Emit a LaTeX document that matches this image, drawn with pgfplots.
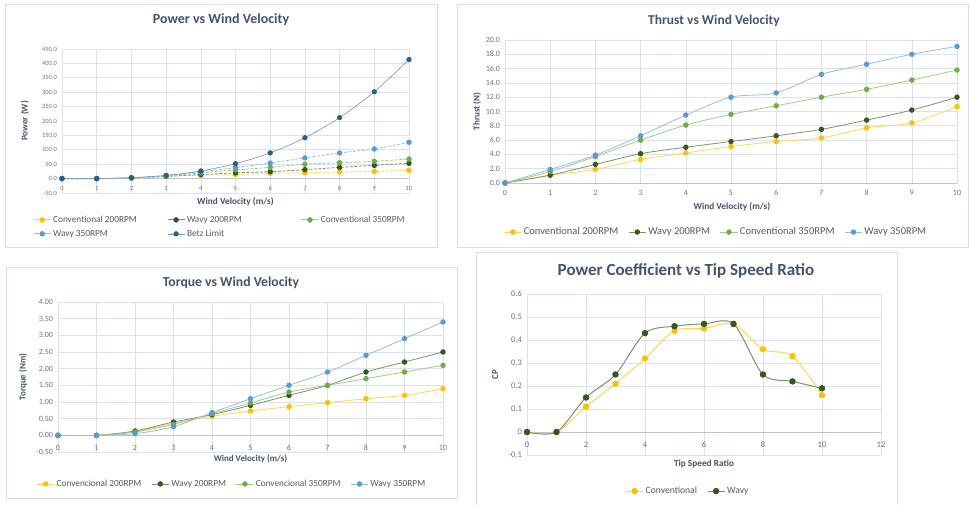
\documentclass[border=0pt]{standalone}
\usepackage{fontspec}
\setmainfont{Carlito}
\usepackage{pgfplots}
\pgfplotsset{compat=1.18}
\definecolor{cyel}{HTML}{FFC000}
\definecolor{cdg}{HTML}{375623}
\definecolor{clg}{HTML}{70AD47}
\definecolor{clb}{HTML}{5B9BD5}
\definecolor{cdb}{HTML}{255E91}
\definecolor{gridc}{HTML}{DCE1EA}
\definecolor{zeroc}{HTML}{BCC5D3}
\definecolor{tickc}{HTML}{6B7585}
\definecolor{titlec}{HTML}{44546A}
\definecolor{legc}{HTML}{595959}
\definecolor{framec}{HTML}{D9DEE6}
\pgfplotsset{
  excel/.style={
    scale only axis, anchor=south west, clip=false,
    axis line style={draw=none},
    tick style={draw=none},
    xmajorgrids, ymajorgrids,
    grid style={draw=gridc, line width=0.6pt},
    /pgf/number format/assume math mode=true,
    scaled ticks=false,
    ticklabel style={text=tickc},
    yticklabel style={anchor=east, xshift=-1.5pt},
    xlabel style={font=\bfseries\fontsize{9.3}{11}\selectfont, text=titlec, anchor=center},
    ylabel style={font=\bfseries\fontsize{9}{11}\selectfont, text=titlec, anchor=center, rotate=0},
    legend style={draw=none, fill=none, text=legc},
    legend cell align=left,
    extra y ticks={0}, extra y tick labels={},
    extra y tick style={grid style={draw=zeroc, line width=0.7pt}},
  },
  ser/.style={draw=#1!65!white, mark=*, mark size=2.3pt, mark options={solid, fill=#1, draw=#1}, line width=0.8pt, smooth, tension=0.5},
}
\begin{document}
\begin{tikzpicture}[x=1pt,y=1pt]
\fill[white] (0,0) rectangle (970,504);
\useasboundingbox (0,0) rectangle (970,504);
\draw[framec, line width=0.8pt] (5.5,257) rectangle (437,500);
\draw[framec, line width=0.8pt] (457,257) rectangle (968.5,500);
\draw[framec, line width=0.8pt] (6,6) rectangle (457,237);
\draw[framec, line width=0.8pt] (476,-2) rectangle (897,252);

% ---------- Power ----------
\begin{axis}[excel, at={(62pt,311pt)}, width=347pt, height=144pt,
  xmin=0, xmax=10, ymin=-50, ymax=450,
  xtick={0,...,10}, ytick={-50,0,50,100,150,200,250,300,350,400,450},
  ticklabel style={font=\fontsize{6.5}{8}\selectfont},
  xticklabel style={anchor=center, yshift=5pt},
  yticklabel style={/pgf/number format/.cd, fixed, fixed zerofill, precision=1},
  xlabel={Wind Velocity (m/s)}, xlabel style={at={(axis description cs:0.5,-0.0625)}},
  ylabel={Power (W)}, ylabel style={at={(axis description cs:-0.107,0.5)}},
  legend columns=3,
  legend image post style={solid},
  legend style={font=\fontsize{9.3}{11}\selectfont, at={(axis description cs:-0.092,-0.13)}, anchor=north west, row sep=2pt},
]
\addplot[ser=cyel, dash pattern=on 3pt off 1.5pt] coordinates {(0,0)(1,0)(2,2)(3,7)(4,12)(5,14)(6,18)(7,20)(8,23)(9,25)(10,29)};
\addlegendentry{\makebox[112pt][l]{Conventional 200RPM}}
\addplot[ser=cdg, dash pattern=on 3pt off 1.5pt] coordinates {(0,0)(1,0)(2,2)(3,8)(4,14)(5,20)(6,24)(7,31)(8,39)(9,46)(10,53)};
\addlegendentry{\makebox[112pt][l]{Wavy 200RPM}}
\addplot[ser=clg, dash pattern=on 3pt off 1.5pt] coordinates {(0,0)(1,0)(2,2)(3,9)(4,20)(5,30)(6,39)(7,50)(8,55)(9,60)(10,68)};
\addlegendentry{Conventional 350RPM}
\addplot[ser=clb, dash pattern=on 3pt off 1.5pt] coordinates {(0,0)(1,0)(2,2)(3,10)(4,24)(5,38)(6,54)(7,72)(8,89)(9,103)(10,126)};
\addlegendentry{\makebox[112pt][l]{Wavy 350RPM}}
\addplot[ser=cdb, line width=0.6pt] coordinates {(0,0)(1,0)(2,3.3)(3,11.2)(4,26.5)(5,51.7)(6,89.3)(7,141.8)(8,211.7)(9,301.4)(10,413.4)};
\addlegendentry{Betz Limit}
\end{axis}

% ---------- Thrust ----------
\begin{axis}[excel, at={(505pt,321pt)}, width=452pt, height=143pt,
  xmin=0, xmax=10, ymin=0, ymax=20,
  xtick={0,...,10}, ytick={0,2,...,20},
  ticklabel style={font=\fontsize{8}{9}\selectfont},
  xticklabel style={anchor=center, yshift=-10pt},
  yticklabel style={/pgf/number format/.cd, fixed, fixed zerofill, precision=1},
  xlabel={Wind Velocity (m/s)}, xlabel style={at={(axis description cs:0.502,-0.168)}},
  ylabel={Thrust (N)}, ylabel style={at={(axis description cs:-0.062,0.5)}},
  legend columns=4,
  legend style={font=\fontsize{10.5}{12}\selectfont, at={(axis description cs:0.467,-0.343)}, anchor=center,
    /tikz/every even column/.append style={column sep=8pt}},
]
\addplot[ser=cyel] coordinates {(0,0)(1,1.1)(2,1.9)(3,3.3)(4,4.2)(5,5.1)(6,5.8)(7,6.3)(8,7.7)(9,8.4)(10,10.7)};
\addlegendentry{Conventional 200RPM}
\addplot[ser=cdg] coordinates {(0,0)(1,1.1)(2,2.6)(3,4.1)(4,5.0)(5,5.8)(6,6.6)(7,7.5)(8,8.8)(9,10.2)(10,12.0)};
\addlegendentry{Wavy 200RPM}
\addplot[ser=clg] coordinates {(0,0)(1,1.6)(2,3.7)(3,6.0)(4,8.1)(5,9.6)(6,10.8)(7,12.0)(8,13.1)(9,14.4)(10,15.8)};
\addlegendentry{Conventional 350RPM}
\addplot[ser=clb] coordinates {(0,0)(1,1.9)(2,3.9)(3,6.6)(4,9.5)(5,12.0)(6,12.6)(7,15.2)(8,16.6)(9,18.0)(10,19.1)};
\addlegendentry{Wavy 350RPM}
\end{axis}

% ---------- Torque ----------
\begin{axis}[excel, at={(58pt,52pt)}, width=385pt, height=150pt,
  xmin=0, xmax=10, ymin=-0.5, ymax=4,
  xtick={0,...,10}, ytick={-0.5,0,0.5,1,1.5,2,2.5,3,3.5,4},
  ticklabel style={font=\fontsize{8}{9}\selectfont},
  xticklabel style={anchor=center, yshift=4pt},
  yticklabel style={/pgf/number format/.cd, fixed, fixed zerofill, precision=2},
  xlabel={Wind Velocity (m/s)}, xlabel style={at={(axis description cs:0.5,-0.047)}, font=\bfseries\fontsize{8.9}{10}\selectfont},
  ylabel={Torque (Nm)}, ylabel style={at={(axis description cs:-0.091,0.5)}},
  legend columns=4,
  legend style={font=\fontsize{9.3}{11}\selectfont, at={(axis description cs:0.452,-0.213)}, anchor=center,
    /tikz/every even column/.append style={column sep=8pt}},
]
\addplot[ser=cyel] coordinates {(0,0)(1,0)(2,0.12)(3,0.36)(4,0.57)(5,0.73)(6,0.86)(7,0.98)(8,1.1)(9,1.2)(10,1.4)};
\addlegendentry{Convencional 200RPM}
\addplot[ser=cdg] coordinates {(0,0)(1,0)(2,0.13)(3,0.4)(4,0.62)(5,0.9)(6,1.2)(7,1.5)(8,1.9)(9,2.2)(10,2.5)};
\addlegendentry{Wavy 200RPM}
\addplot[ser=clg] coordinates {(0,0)(1,0)(2,0.1)(3,0.33)(4,0.65)(5,0.97)(6,1.3)(7,1.5)(8,1.7)(9,1.9)(10,2.1)};
\addlegendentry{Convencional 350RPM}
\addplot[ser=clb] coordinates {(0,0)(1,0)(2,0.05)(3,0.26)(4,0.68)(5,1.1)(6,1.5)(7,1.9)(8,2.4)(9,2.9)(10,3.4)};
\addlegendentry{Wavy 350RPM}
\end{axis}

% ---------- CP ----------
\begin{axis}[excel, at={(527pt,49pt)}, width=354pt, height=161pt,
  xmin=0, xmax=12, ymin=-0.1, ymax=0.6,
  xtick={0,2,...,12}, ytick={-0.1,0,0.1,0.2,0.3,0.4,0.5,0.6},
  ticklabel style={font=\fontsize{8.5}{10}\selectfont},
  xticklabel style={anchor=center, yshift=10pt},
  xlabel={Tip Speed Ratio}, xlabel style={at={(axis description cs:0.5,-0.056)}},
  ylabel={CP}, ylabel style={at={(axis description cs:-0.09,0.5)}},
  legend columns=2,
  legend style={font=\fontsize{9.6}{11}\selectfont, at={(axis description cs:0.455,-0.224)}, anchor=center,
    /tikz/every even column/.append style={column sep=8pt}},
]
\addplot[ser=cyel, mark size=2.7pt, line width=1pt] coordinates {(0,0)(1,0)(2,0.11)(3,0.21)(4,0.32)(5,0.44)(6,0.45)(7,0.47)(8,0.36)(9,0.33)(10,0.16)};
\addlegendentry{Conventional}
\addplot[ser=cdg, mark size=2.7pt, line width=1pt] coordinates {(0,0)(1,0)(2,0.15)(3,0.25)(4,0.43)(5,0.46)(6,0.47)(7,0.47)(8,0.25)(9,0.22)(10,0.19)};
\addlegendentry{Wavy}
\end{axis}

\node[font=\bfseries\fontsize{14}{16}\selectfont, text=titlec] at (221,484) {Power vs Wind Velocity};
\node[font=\bfseries\fontsize{13.5}{16}\selectfont, text=titlec] at (714,483) {Thrust vs Wind Velocity};
\node[font=\bfseries\fontsize{13.7}{16}\selectfont, text=titlec] at (231,221) {Torque vs Wind Velocity};
\node[font=\bfseries\fontsize{17}{20}\selectfont, text=titlec] at (686,233) {Power Coefficient vs Tip Speed Ratio};
\end{tikzpicture}
\end{document}
